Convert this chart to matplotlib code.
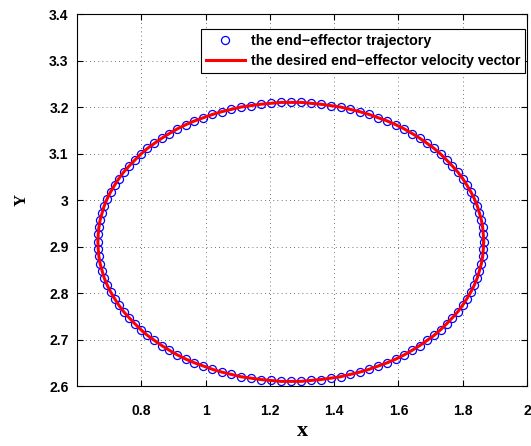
import matplotlib
matplotlib.use('Agg')
from matplotlib import pyplot as plt

# end-effector trajectory
traj_x = [1.865, 1.864, 1.862, 1.858, 1.852, 1.845, 1.836, 1.825, 1.813, 1.800,
          1.785, 1.768, 1.750, 1.731, 1.711, 1.689, 1.666, 1.643, 1.618, 1.592,
          1.565, 1.537, 1.509, 1.480, 1.450, 1.420, 1.390, 1.359, 1.328, 1.296,
          1.265, 1.234, 1.202, 1.171, 1.140, 1.110, 1.080, 1.050, 1.021, 0.993,
          0.965, 0.938, 0.912, 0.887, 0.864, 0.841, 0.819, 0.799, 0.780, 0.762,
          0.745, 0.730, 0.717, 0.705, 0.694, 0.685, 0.678, 0.672, 0.668, 0.666,
          0.665, 0.666, 0.668, 0.672, 0.678, 0.685, 0.694, 0.705, 0.717, 0.730,
          0.745, 0.762, 0.780, 0.799, 0.819, 0.841, 0.864, 0.887, 0.912, 0.938,
          0.965, 0.993, 1.021, 1.050, 1.080, 1.110, 1.140, 1.171, 1.202, 1.234,
          1.265, 1.296, 1.328, 1.359, 1.390, 1.420, 1.450, 1.480, 1.509, 1.537,
          1.565, 1.592, 1.618, 1.643, 1.666, 1.689, 1.711, 1.731, 1.750, 1.768,
          1.785, 1.800, 1.813, 1.825, 1.836, 1.845, 1.852, 1.858, 1.862, 1.864]
traj_y = [2.910, 2.926, 2.941, 2.957, 2.972, 2.988, 3.003, 3.018, 3.032, 3.046,
          3.060, 3.073, 3.086, 3.099, 3.111, 3.122, 3.133, 3.143, 3.153, 3.162,
          3.170, 3.177, 3.184, 3.190, 3.195, 3.200, 3.203, 3.206, 3.208, 3.210,
          3.210, 3.210, 3.208, 3.206, 3.203, 3.200, 3.195, 3.190, 3.184, 3.177,
          3.170, 3.162, 3.153, 3.143, 3.133, 3.122, 3.111, 3.099, 3.086, 3.073,
          3.060, 3.046, 3.032, 3.018, 3.003, 2.988, 2.972, 2.957, 2.941, 2.926,
          2.910, 2.894, 2.879, 2.863, 2.848, 2.832, 2.817, 2.802, 2.788, 2.774,
          2.760, 2.747, 2.734, 2.721, 2.709, 2.698, 2.687, 2.677, 2.667, 2.658,
          2.650, 2.643, 2.636, 2.630, 2.625, 2.620, 2.617, 2.614, 2.612, 2.610,
          2.610, 2.610, 2.612, 2.614, 2.617, 2.620, 2.625, 2.630, 2.636, 2.643,
          2.650, 2.658, 2.667, 2.677, 2.687, 2.698, 2.709, 2.721, 2.734, 2.747,
          2.760, 2.774, 2.788, 2.802, 2.817, 2.832, 2.848, 2.863, 2.879, 2.894]

xticks = [0.8, 1, 1.2, 1.4, 1.6, 1.8, 2]
xtick_labels = ['0.8', '1', '1.2', '1.4', '1.6', '1.8', '2']
yticks = [2.6, 2.7, 2.8, 2.9, 3.0, 3.1, 3.2, 3.3, 3.4]
ytick_labels = ['2.6', '2.7', '2.8', '2.9', '3', '3.1', '3.2', '3.3', '3.4']

plt.rcParams['font.family'] = ['Liberation Sans', 'DejaVu Sans']

fig = plt.figure(figsize=(5.31, 4.46), dpi=100)
ax = fig.add_axes([0.145, 0.1345, 0.8475, 0.834])

ax.plot(traj_x, traj_y, 'o', color='blue', markerfacecolor='none',
        markersize=5.8, markeredgewidth=0.9,
        label='the end\u2212effector trajectory')
ax.plot(traj_x + traj_x[:1], traj_y + traj_y[:1], '-', color='red', linewidth=2.2,
        label='the desired end\u2212effector velocity vector')

ax.set_xlim(0.6, 2.0)
ax.set_ylim(2.6, 3.4)
ax.set_xticks(xticks)
ax.set_xticklabels(xtick_labels, fontweight='bold', fontsize=10)
ax.set_yticks(yticks)
ax.set_yticklabels(ytick_labels, fontweight='bold', fontsize=10)
ax.tick_params(direction='in', top=True, right=True, length=4, width=0.8, pad=6)
ax.tick_params(axis='x', pad=13)
ax.grid(True, linestyle=(0, (1, 4)), color='#444444', linewidth=0.6)

ax.set_xlabel('x', fontsize=16, fontweight='bold', family='Liberation Serif', labelpad=2)
ax.set_ylabel('Y', fontsize=12, fontweight='bold', family='Liberation Serif', labelpad=14)

leg = ax.legend(loc='upper right', bbox_to_anchor=(0.9956, 0.96),
                prop={'weight': 'bold', 'size': 10.3},
                fancybox=False, edgecolor='black', framealpha=1,
                handlelength=2.7, borderpad=0.35, labelspacing=0.45,
                borderaxespad=0.0, handletextpad=0.4)
leg.get_frame().set_linewidth(0.8)

for s in ax.spines.values():
    s.set_linewidth(0.8)

fig.savefig('out.png', dpi=100)
